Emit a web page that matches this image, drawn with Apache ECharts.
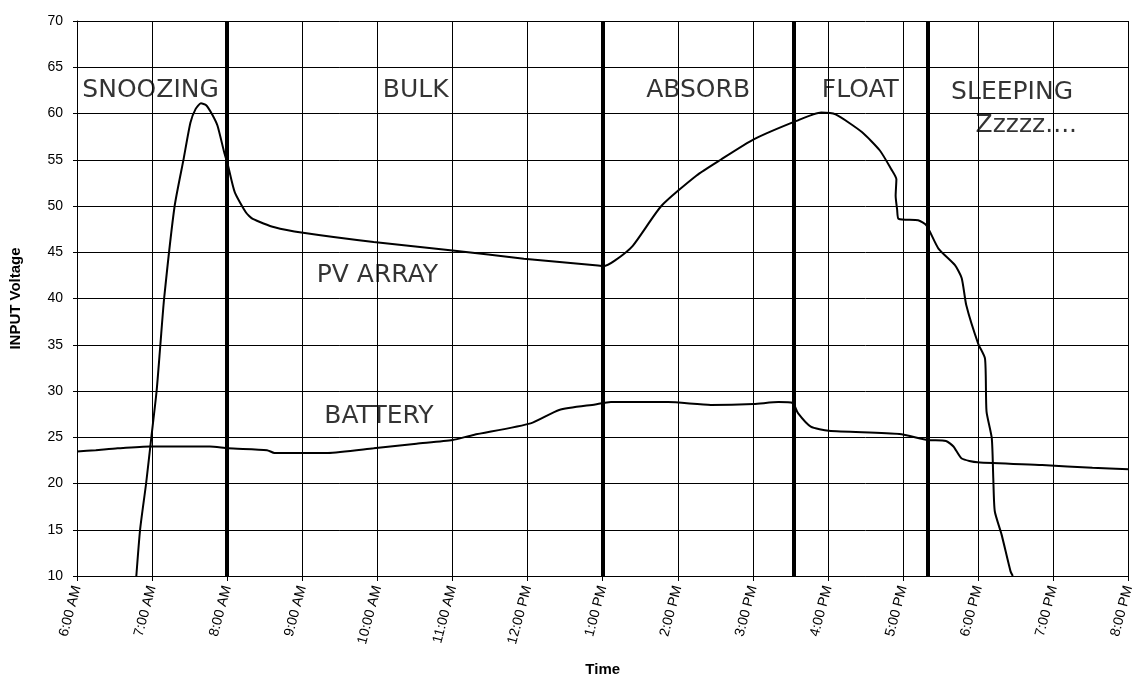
<!DOCTYPE html>
<html>
<head>
<meta charset="utf-8">
<script src="https://cdn.jsdelivr.net/npm/echarts@6/dist/echarts.min.js"></script>
<style>
    html, body { margin: 0; padding: 0; background: #fff; }
    #chart { width: 1136px; height: 682px; }
</style>
</head>
<body>
<div id="chart"></div>
<script>
// x values are hours of the day (6 = 6:00 AM, 20 = 8:00 PM)
const timeLabels = ['6:00 AM', '7:00 AM', '8:00 AM', '9:00 AM', '10:00 AM', '11:00 AM', '12:00 PM',
    '1:00 PM', '2:00 PM', '3:00 PM', '4:00 PM', '5:00 PM', '6:00 PM', '7:00 PM', '8:00 PM'];

// PV ARRAY input voltage
const pvHours = [6.79, 6.84, 6.92, 6.99, 7.06, 7.11, 7.16, 7.30, 7.42, 7.51, 7.58, 7.65, 7.72, 7.80, 7.87,
    7.96, 8.01, 8.10, 8.25, 8.34, 8.63, 9.01, 9.95, 11.0, 11.95, 12.9, 13.01, 13.16, 13.40, 13.78,
    14.25, 14.57, 15.01, 15.58, 15.91, 16.10, 16.45, 16.69, 16.84, 16.91, 16.90, 16.92, 16.94, 17.20,
    17.31, 17.47, 17.69, 17.78, 17.84, 18.0, 18.09, 18.11, 18.18, 18.20, 18.22, 18.31, 18.43, 18.46];
const pvVolts = [10, 15, 20, 25, 30, 35, 40, 50, 55.1, 59.0, 60.5, 61.1, 60.9, 59.9, 58.7,
    55.8, 54.4, 51.5, 49.3, 48.6, 47.7, 47.1, 46.1, 45.2, 44.3, 43.6, 43.5, 44.1, 45.7, 50.0,
    53.3, 55.0, 57.2, 59.2, 60.1, 59.9, 58.0, 56.0, 54.0, 52.9, 51.1, 49.6, 48.6, 48.45,
    47.9, 45.4, 43.6, 42.2, 39.3, 35.1, 33.5, 27.8, 24.9, 20.6, 17.0, 14.5, 10.5, 10];

// BATTERY voltage
const batHours = [6.0, 6.25, 6.54, 6.97, 7.77, 8.01, 8.53, 8.63, 9.34, 9.95, 10.52, 11.0, 11.28, 12.04,
    12.42, 12.9, 13.11, 13.87, 14.44, 15.01, 15.34, 15.53, 15.60, 15.77, 16.01, 16.95, 17.33, 17.57,
    17.67, 17.78, 17.99, 18.85, 19.52, 20.0];
const batVolts = [23.45, 23.6, 23.8, 24.0, 24.0, 23.8, 23.6, 23.3, 23.3, 23.8, 24.3, 24.7, 25.25, 26.5,
    27.95, 28.55, 28.8, 28.8, 28.5, 28.6, 28.8, 28.7, 27.6, 26.15, 25.7, 25.35, 24.7, 24.6,
    24.0, 22.7, 22.3, 22.0, 21.7, 21.55];

// charge stage boundaries (hours)
const stageBounds = [8.0, 13.0, 15.55, 17.33];

// text notes on the plot
const noteTexts = ['SNOOZING', 'BULK', 'ABSORB', 'FLOAT', 'SLEEPING', 'Zzzzz....', 'PV ARRAY', 'BATTERY'];
const noteHours = [6.98, 10.51, 14.27, 16.43, 18.45, 18.64, 10.0, 10.02];
const noteVolts = [62.5, 62.5, 62.5, 62.5, 62.3, 58.7, 42.5, 27.2];

const chart = echarts.init(document.getElementById('chart'));

const pvData = pvHours.map((h, i) => [h, pvVolts[i]]);
const batData = batHours.map((h, i) => [h, batVolts[i]]);
const noteData = noteTexts.map((t, i) => ({ name: t, value: [noteHours[i], noteVolts[i]] }));

const option = {
    animation: false,
    backgroundColor: '#fff',
    grid: { left: 76, right: 3, top: 21, bottom: 105 },
    xAxis: {
        type: 'value',
        min: 6,
        max: 20,
        interval: 1,
        name: 'Time',
        nameLocation: 'middle',
        nameGap: 86,
        nameTextStyle: { fontFamily: 'Liberation Sans', fontWeight: 'bold', fontSize: 15, color: '#000' },
        axisLine: { show: true, lineStyle: { color: '#000', width: 1 } },
        axisTick: { show: true, length: 5, lineStyle: { color: '#000' } },
        axisLabel: {
            rotate: 75,
            margin: 10,
            fontFamily: 'Liberation Sans',
            fontSize: 14,
            color: '#000',
            formatter: v => timeLabels[Math.round(v - 6)]
        },
        splitLine: { show: true, lineStyle: { color: '#000', width: 1 } }
    },
    yAxis: {
        type: 'value',
        min: 10,
        max: 70,
        interval: 5,
        name: 'INPUT Voltage',
        nameLocation: 'middle',
        nameGap: 54,
        nameTextStyle: { fontFamily: 'Liberation Sans', fontWeight: 'bold', fontSize: 15, color: '#000' },
        axisLine: { show: true, lineStyle: { color: '#000', width: 1 } },
        axisTick: { show: true, length: 4, lineStyle: { color: '#000' } },
        axisLabel: { margin: 14, fontFamily: 'Liberation Sans', fontSize: 14, color: '#000' },
        splitLine: { show: true, lineStyle: { color: '#000', width: 1 } }
    },
    series: [
        {
            name: 'PV ARRAY',
            type: 'line',
            data: pvData,
            showSymbol: false,
            smooth: 0.2,
            lineStyle: { color: '#000', width: 2 },
            markLine: {
                silent: true,
                symbol: 'none',
                label: { show: false },
                lineStyle: { color: '#000', width: 4, type: 'solid' },
                data: stageBounds.map(h => ({ xAxis: h }))
            }
        },
        {
            name: 'BATTERY',
            type: 'line',
            data: batData,
            showSymbol: false,
            smooth: 0.2,
            lineStyle: { color: '#000', width: 2 }
        },
        {
            name: 'notes',
            type: 'scatter',
            data: noteData,
            symbolSize: 1,
            itemStyle: { color: 'transparent' },
            silent: true,
            label: {
                show: true,
                position: 'inside',
                formatter: '{b}',
                fontFamily: 'DejaVu Sans',
                fontSize: 25,
                color: '#000',
                textBorderWidth: 0
            }
        }
    ]
};

chart.setOption(option);
</script>
</body>
</html>
